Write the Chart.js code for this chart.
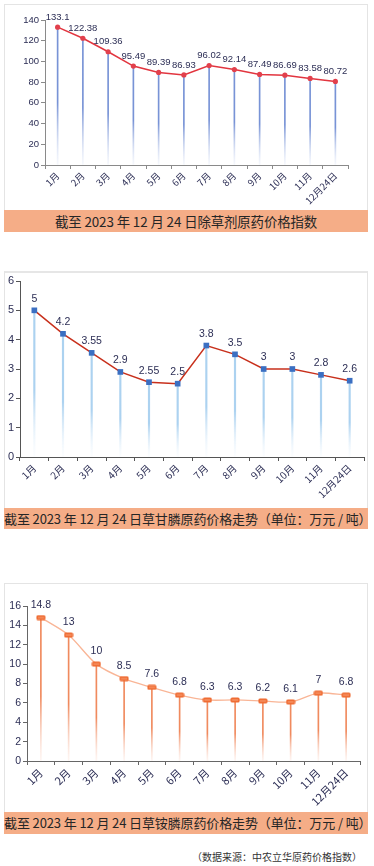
<!DOCTYPE html>
<html>
<head>
<meta charset="utf-8">
<script src="https://cdn.jsdelivr.net/npm/chart.js@4.4.1/dist/chart.umd.min.js"></script>
<style>
  html, body { margin: 0; padding: 0; background: #fff; }
  body { width: 374px; height: 866px; position: relative; overflow: hidden; font-family: 'Noto Sans CJK SC', 'Noto Sans', sans-serif; }
  .panel { position: absolute; left: 4px; width: 362px; border: 1px solid #e4e4e4; border-bottom: none; box-sizing: content-box; }
  .panel canvas { position: absolute; left: -1px; top: -1px; }
  .bar { position: absolute; left: 4px; width: 364px; background: #f5ad87; color: #262626; text-align: center; font-size: 13.4px; white-space: nowrap; letter-spacing: -0.1px; overflow: hidden; }
  .source { position: absolute; right: 12px; top: 849px; font-size: 10px; color: #333; white-space: nowrap; }
</style>
</head>
<body>

<div class="panel" style="top:4px;height:205px;"><canvas id="herbicideIndexChart" width="364" height="206"></canvas></div>
<div class="bar" style="top:210px;height:22px;line-height:22px;">截至 2023 年 12 月 24 日除草剂原药价格指数</div>

<div class="panel" style="top:271px;height:236px;border-top:2px solid #e6e6e6;"><canvas id="glyphosateChart" width="364" height="237"></canvas></div>
<div class="bar" style="top:508px;height:21px;line-height:21px;font-size:13px;letter-spacing:-0.12px;">截至 2023 年 12 月 24 日草甘膦原药价格走势（单位：万元 / 吨）</div>

<div class="panel" style="top:583px;height:228px;"><canvas id="glufosinateChart" width="364" height="229"></canvas></div>
<div class="bar" style="top:812px;height:22px;line-height:22px;font-size:13px;letter-spacing:-0.12px;">截至 2023 年 12 月 24 日草铵膦原药价格走势（单位：万元 / 吨）</div>

<div class="source">（数据来源：中农立华原药价格指数）</div>

<script>
const months = ['1月', '2月', '3月', '4月', '5月', '6月', '7月', '8月', '9月', '10月', '11月', '12月24日']

// 除草剂原药价格指数
const herbicideIndex = [133.1, 122.38, 109.36, 95.49, 89.39, 86.93, 96.02, 92.14, 87.49, 86.69, 83.58, 80.72]
// 草甘膦 (万元/吨)
const glyphosatePrice = [5, 4.2, 3.55, 2.9, 2.55, 2.5, 3.8, 3.5, 3, 3, 2.8, 2.6]
// 草铵膦 (万元/吨)
const glufosinatePrice = [14.8, 13, 10, 8.5, 7.6, 6.8, 6.3, 6.3, 6.2, 6.1, 7, 6.8]

const labelColor = '#2c2e55'

// draws the value above each point of the line dataset
const valueLabels = {
  id: 'valueLabels',
  afterDatasetsDraw(chart, args, opts) {
    const meta = chart.getDatasetMeta(1)
    const values = chart.data.datasets[1].data
    const ctx = chart.ctx
    ctx.save()
    ctx.font = opts.font
    ctx.fillStyle = labelColor
    ctx.textAlign = 'center'
    ctx.textBaseline = 'middle'
    meta.data.forEach((pt, i) => {
      ctx.fillText(String(values[i]), pt.x, pt.y - opts.offset)
    })
    ctx.restore()
  }
}

// vertical stem that fades out toward the axis
function stemColor(top, bottom) {
  return function (context) {
    const chart = context.chart
    const area = chart.chartArea
    if (!area || !chart.scales.y) return top
    const y0 = chart.scales.y.getPixelForValue(context.raw)
    const g = chart.ctx.createLinearGradient(0, y0, 0, area.bottom)
    g.addColorStop(0, top)
    g.addColorStop(0.55, top)
    g.addColorStop(1, bottom)
    return g
  }
}

function pillMarker(color) {
  const c = document.createElement('canvas')
  c.width = 10
  c.height = 6
  const x = c.getContext('2d')
  x.fillStyle = color
  x.beginPath()
  x.roundRect(0.5, 0.5, 9, 5, 1.5)
  x.fill()
  x.fillStyle = 'rgba(255,200,170,0.6)'
  x.fillRect(2, 2.5, 6, 1)
  return c
}

function buildChart(id, cfg) {
  const ctx = document.getElementById(id)
  return new Chart(ctx, {
    type: 'bar',
    data: {
      labels: months,
      datasets: [
        {
          type: 'bar',
          data: cfg.values,
          backgroundColor: stemColor(cfg.stemTop, cfg.stemBottom),
          barThickness: cfg.stemWidth,
          order: 2
        },
        {
          type: 'line',
          data: cfg.values,
          borderColor: cfg.lineColor,
          borderWidth: cfg.lineWidth,
          tension: cfg.tension || 0,
          pointStyle: cfg.pointStyle,
          pointRadius: cfg.pointRadius,
          pointBackgroundColor: cfg.pointColor,
          pointBorderWidth: 0,
          order: 1
        }
      ]
    },
    options: {
      responsive: false,
      animation: false,
      layout: { padding: cfg.padding },
      plugins: {
        legend: { display: false },
        tooltip: { enabled: false },
        valueLabels: { font: cfg.labelFont, offset: cfg.labelOffset }
      },
      scales: {
        x: {
          offset: true,
          grid: {
            offset: true,
            drawOnChartArea: false,
            tickLength: 4,
            color: cfg.axisColor
          },
          border: { color: cfg.axisColor, width: 1 },
          ticks: {
            minRotation: 45,
            maxRotation: 45,
            padding: 1,
            color: labelColor,
            font: { family: 'Noto Sans CJK SC', size: cfg.xFont }
          },
          afterFit: function (scale) {
            scale.height = cfg.xHeight
          }
        },
        y: {
          min: 0,
          max: cfg.yMax,
          ticks: {
            stepSize: cfg.yStep,
            padding: 2,
            color: labelColor,
            font: { family: 'Liberation Sans', size: cfg.yFont }
          },
          grid: {
            drawOnChartArea: false,
            tickLength: 4,
            color: cfg.axisColor
          },
          border: { color: cfg.axisColor, width: 1 },
          afterFit: function (scale) {
            scale.width = cfg.yWidth
          }
        }
      }
    },
    plugins: [valueLabels]
  })
}

buildChart('herbicideIndexChart', {
  values: herbicideIndex,
  yMax: 140,
  yStep: 20,
  yWidth: 41,
  xHeight: 45,
  padding: { top: 16, right: 20, left: 0, bottom: 0 },
  axisColor: '#8a8a8a',
  stemTop: '#7893d6',
  stemBottom: 'rgba(225,232,247,0.3)',
  stemWidth: 1,
  lineColor: '#e2353f',
  lineWidth: 1.5,
  pointStyle: 'circle',
  pointRadius: 2.6,
  pointColor: '#e2404c',
  labelFont: '9.5px "Liberation Sans"',
  labelOffset: 10,
  xFont: 9.5,
  yFont: 9.5
})

buildChart('glyphosateChart', {
  values: glyphosatePrice,
  yMax: 6,
  yStep: 1,
  yWidth: 16,
  xHeight: 52,
  padding: { top: 9, right: 4, left: 0, bottom: 0 },
  axisColor: '#555',
  stemTop: '#acd2f0',
  stemBottom: 'rgba(240,247,253,0.2)',
  stemWidth: 1.5,
  lineColor: '#c8301c',
  lineWidth: 1.5,
  pointStyle: 'rect',
  pointRadius: 4,
  pointColor: '#3b6fc2',
  labelFont: '10.5px "Liberation Sans"',
  labelOffset: 11.5,
  xFont: 10,
  yFont: 11
})

buildChart('glufosinateChart', {
  values: glufosinatePrice,
  yMax: 16,
  yStep: 2,
  yWidth: 23,
  xHeight: 51,
  padding: { top: 23, right: 8, left: 0, bottom: 0 },
  axisColor: '#666',
  stemTop: '#f08a5e',
  stemBottom: 'rgba(252,225,215,0.3)',
  stemWidth: 1,
  lineColor: '#f9b596',
  lineWidth: 1.3,
  tension: 0.3,
  pointStyle: pillMarker('#ef6c33'),
  pointRadius: 5,
  pointColor: '#ef6c33',
  labelFont: '10.5px "Liberation Sans"',
  labelOffset: 13,
  xFont: 11,
  yFont: 10.5
})
</script>
</body>
</html>
